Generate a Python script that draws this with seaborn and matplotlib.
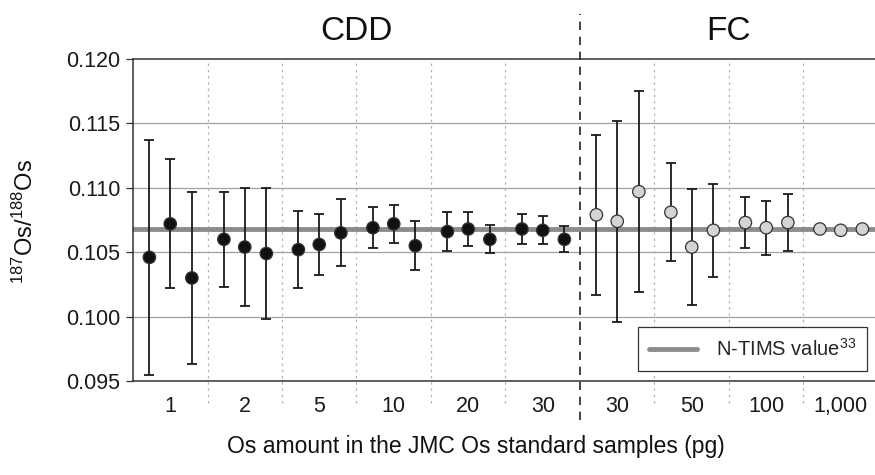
import numpy as np
import pandas as pd
import matplotlib
matplotlib.use("Agg")
import matplotlib.pyplot as plt
import seaborn as sns

# Os amounts (pg) per group, three replicate runs each
cdd_amounts = ['1', '2', '5', '10', '20', '30']
fc_amounts = ['30', '50', '100', '1,000']

# 187Os/188Os ratios
cdd_ratio = [0.1046, 0.1072, 0.1030,
             0.1060, 0.1054, 0.1049,
             0.1052, 0.1056, 0.1065,
             0.1069, 0.1072, 0.1055,
             0.1066, 0.1068, 0.1060,
             0.1068, 0.1067, 0.1060]
cdd_err = [0.0091, 0.0050, 0.0067,
           0.0037, 0.0046, 0.0051,
           0.0030, 0.0024, 0.0026,
           0.0016, 0.0015, 0.0019,
           0.0015, 0.0013, 0.0011,
           0.0012, 0.0011, 0.0010]

fc_ratio = [0.1079, 0.1074, 0.1097,
            0.1081, 0.1054, 0.1067,
            0.1073, 0.1069, 0.1073,
            0.1068, 0.1067, 0.1068]
fc_err = [0.0062, 0.0078, 0.0078,
          0.0038, 0.0045, 0.0036,
          0.0020, 0.0021, 0.0022,
          0.0, 0.0, 0.0]

ntims_value = 0.1068

# build one table; x = group index + position within group
offsets = [0.22, 0.5, 0.79]
rows = []
for method, amounts, ratios, errs, g0 in [('CDD', cdd_amounts, cdd_ratio, cdd_err, 0),
                                          ('FC', fc_amounts, fc_ratio, fc_err, len(cdd_amounts))]:
    for i, (r, e) in enumerate(zip(ratios, errs)):
        g = g0 + i // 3
        rows.append({'method': method, 'amount': amounts[i // 3], 'ratio': r,
                     'err': e, 'x': g + offsets[i % 3]})
df = pd.DataFrame(rows)
n_groups = len(cdd_amounts) + len(fc_amounts)

sns.set_theme(style="white")
plt.rcParams['font.family'] = ['Liberation Sans', 'DejaVu Sans']
plt.rcParams['mathtext.fontset'] = 'custom'
plt.rcParams['mathtext.rm'] = 'Liberation Sans'
plt.rcParams['mathtext.it'] = 'Liberation Sans'

fig = plt.figure(figsize=(8.75, 4.75), dpi=100)
ax = fig.add_axes([133 / 875, 94 / 475, 745 / 875, 322 / 475])

# horizontal grid
for yv in [0.100, 0.105, 0.110, 0.115]:
    ax.axhline(yv, color='#a0a0a0', lw=0.9, zorder=0)

# reference value
ax.axhline(ntims_value, color='#8c8c8c', lw=3.5, zorder=1, label='N-TIMS value$^{33}$')

# group separators
trans = ax.get_xaxis_transform()
for g in range(1, n_groups):
    if g == len(cdd_amounts):
        ax.plot([g, g], [-0.121, 1.14], transform=trans, color='#222222', lw=1.2,
                ls=(0, (5, 4)), clip_on=False, zorder=2)
    else:
        ax.plot([g, g], [-0.068, 1.0], transform=trans, color='#b5b5b5', lw=0.9,
                ls=(0, (2, 3)), clip_on=False, zorder=0.5)

# error bars
ax.errorbar(df['x'], df['ratio'], yerr=df['err'], fmt='none', ecolor='#1a1a1a',
            elinewidth=1.3, capsize=3.5, capthick=1.3, zorder=3)

# points
sns.scatterplot(data=df, x='x', y='ratio', hue='method',
                palette={'CDD': '#111111', 'FC': '#d4d4d4'},
                edgecolor='#333333', linewidth=0.9, s=80, legend=False,
                ax=ax, zorder=4)

ax.set_xlim(0, n_groups)
ax.set_ylim(0.095, 0.120)
ax.set_yticks([0.095, 0.100, 0.105, 0.110, 0.115, 0.120])
ax.set_yticklabels([f'{v:.3f}' for v in [0.095, 0.100, 0.105, 0.110, 0.115, 0.120]])
ax.set_xticks(np.arange(n_groups) + 0.5)
ax.set_xticklabels(cdd_amounts + fc_amounts)
ax.tick_params(axis='x', length=0, pad=11, labelsize=15.5, colors='#1a1a1a')
ax.tick_params(axis='y', left=True, length=5, width=0.9, color='#333333',
               labelsize=15.5, labelcolor='#1a1a1a', pad=4)
ax.set_xlabel('')
ax.set_ylabel('')

for side in ['left', 'top', 'bottom', 'right']:
    ax.spines[side].set_color('#333333')
    ax.spines[side].set_linewidth(1.1)

# section titles
ax.text(3.0, 1.084, 'CDD', transform=trans, ha='center', va='center', fontsize=24, color='#111111')
ax.text(8.0, 1.084, 'FC', transform=trans, ha='center', va='center', fontsize=24, color='#111111')

leg = ax.legend(loc='lower right', bbox_to_anchor=(0.985, 0.031), borderaxespad=0,
                fancybox=False, framealpha=1, edgecolor='#333333', fontsize=14.5,
                handlelength=2.4, borderpad=0.55, handletextpad=0.9)
leg.get_frame().set_linewidth(0.9)

fig.text(476 / 875, 1 - 447 / 475, 'Os amount in the JMC Os standard samples (pg)',
         ha='center', va='center', fontsize=16.5, color='#111111')
fig.text(25 / 875, 1 - 222 / 475, '$^{187}$Os/$^{188}$Os', rotation=90,
         ha='center', va='center', fontsize=17, color='#111111')

fig.savefig('out.png', dpi=100)
